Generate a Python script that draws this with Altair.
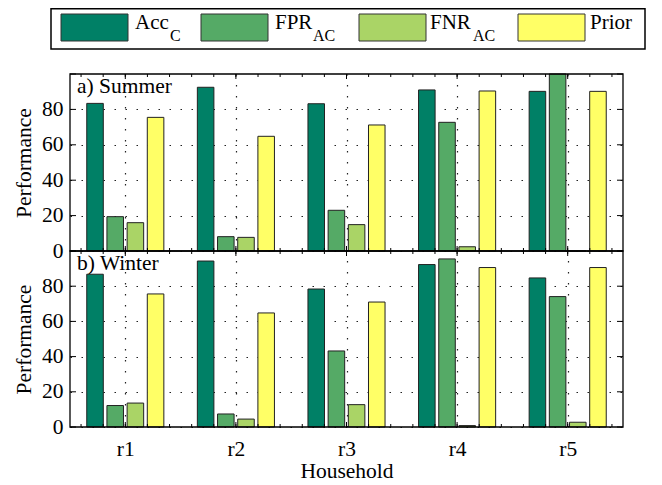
import altair as alt
import pandas as pd

# ---------------- data ----------------
households = ["r1", "r2", "r3", "r4", "r5"]
series = ["Acc_C", "FPR_AC", "FNR_AC", "Prior"]
colors = ["#008066", "#55AA66", "#AAD466", "#FFFF66"]

summer_acc = [83.4, 92.5, 83.2, 91.0, 90.2]
summer_fpr = [19.4, 8.1, 23.0, 72.7, 100.0]
summer_fnr = [16.0, 7.7, 14.9, 2.4, 0.0]
summer_prior = [75.5, 64.8, 71.2, 90.4, 90.2]

winter_acc = [86.8, 94.3, 78.4, 92.3, 84.7]
winter_fpr = [12.2, 7.4, 43.2, 95.5, 74.1]
winter_fnr = [13.6, 4.5, 12.7, 0.8, 2.7]
winter_prior = [75.6, 64.8, 71.0, 90.6, 90.6]

y_tick_values = [0, 20, 40, 60, 80, 100]
y_label_values = [0, 20, 40, 60, 80]
x_major_ticks = [1, 2, 3, 4, 5]
x_minor_ticks = [round(0.6 + 0.2 * k, 1) for k in range(25)]

legend_main = ["Acc", "FPR", "FNR", "Prior"]
legend_sub = ["C", "AC", "AC", ""]

# ---------------- layout / style ----------------
FONT = "Liberation Serif"
FS = 21.5
W = 553
H_TOP = 177
H_BOT = 176
DOT = [1.5, 9.5]
GRID_COLOR = "#222222"

legend_swatch_x = [-9, 131, 289, 448]
legend_text_x = [65, 205, 360, 520]
legend_sub_x = [100, 243, 403, 0]


def to_long(acc, fpr, fnr, prior):
    rows = []
    for i, h in enumerate(households):
        for s, vals in zip(series, [acc, fpr, fnr, prior]):
            rows.append({"household": h, "series": s, "value": vals[i]})
    return pd.DataFrame(rows)


def panel(df, label, H, show_x):
    yscale = alt.Scale(domain=[0, 100], nice=False)
    bars = alt.Chart(df).mark_bar(stroke="#222222", strokeWidth=1).encode(
        x=alt.X("household:N", sort=households,
                scale=alt.Scale(paddingInner=0.303, paddingOuter=0.1515), axis=None),
        xOffset=alt.XOffset("series:N", sort=series,
                            scale=alt.Scale(paddingInner=0.18, paddingOuter=0)),
        y=alt.Y("value:Q", scale=yscale,
                axis=alt.Axis(title="Performance", values=y_label_values, grid=True,
                              gridDash=DOT, gridColor=GRID_COLOR, gridWidth=1.2,
                              ticks=False, tickSize=0, domain=False,
                              labelPadding=7, labelFontSize=FS, labelColor="black",
                              labelFont=FONT, titleFont=FONT,
                              titleFontSize=FS, titleFontWeight="normal",
                              titleColor="black", titlePadding=6)),
        color=alt.Color("series:N", scale=alt.Scale(domain=series, range=colors),
                        legend=None),
    )

    xscale = alt.Scale(domain=[0.5, 5.5], nice=False, zero=False)
    axis_kwargs = dict(values=x_major_ticks, grid=True, gridDash=DOT,
                       gridColor=GRID_COLOR, gridWidth=1.2, ticks=False, tickSize=0,
                       domain=False, labelFlush=False)
    if show_x:
        axis_kwargs.update(labels=True, labelExpr="'r' + datum.value",
                           labelFontSize=FS, labelPadding=11, labelColor="black",
                           labelFont=FONT, titleFont=FONT,
                           title="Household", titleFontSize=FS,
                           titleFontWeight="normal", titleColor="black",
                           titlePadding=1)
    else:
        axis_kwargs.update(labels=False, title=None)
    xaxis = alt.Axis(**axis_kwargs)

    minor_df = pd.DataFrame({"pos": x_minor_ticks})
    major_df = pd.DataFrame({"pos": x_major_ticks})

    def xrule(d, y1, y2, ax):
        if ax is not None:
            xenc = alt.X("pos:Q", scale=xscale, axis=ax)
        else:
            xenc = alt.X("pos:Q", scale=xscale, axis=None)
        return alt.Chart(d).mark_rule(color="black", strokeWidth=1).encode(
            x=xenc, y=alt.value(y1), y2=alt.value(y2))

    xr = [
        xrule(minor_df, H, H - 3, xaxis),
        xrule(major_df, H, H - 5, None),
        xrule(minor_df, 0, 3, None),
        xrule(major_df, 0, 5, None),
    ]

    ydf = pd.DataFrame({"value": y_tick_values})

    def yrule(x1, x2):
        return alt.Chart(ydf).mark_rule(color="black", strokeWidth=1).encode(
            y=alt.Y("value:Q", scale=yscale), x=alt.value(x1), x2=alt.value(x2))

    yr = [yrule(0, 6), yrule(W - 6, W)]

    frame = alt.Chart(pd.DataFrame({"f": [0]})).mark_rect(
        fill="transparent", stroke="black", strokeWidth=1.3).encode(
        x=alt.value(0), x2=alt.value(W), y=alt.value(0), y2=alt.value(H))

    txt = alt.Chart(pd.DataFrame({"t": [label]})).mark_text(
        align="left", baseline="alphabetic", fontSize=FS, font=FONT,
        color="black").encode(text="t:N", x=alt.value(7), y=alt.value(19))

    return alt.layer(bars, *xr, *yr, frame, txt).resolve_scale(
        x="independent").properties(width=W, height=H)


top = panel(to_long(summer_acc, summer_fpr, summer_fnr, summer_prior),
            "a) Summer", H_TOP, False)
bottom = panel(to_long(winter_acc, winter_fpr, winter_fnr, winter_prior),
               "b) Winter", H_BOT, True)

# ---------------- legend ----------------
leg_df = pd.DataFrame({
    "series": series,
    "x0": legend_swatch_x,
    "x1": [v + 67 for v in legend_swatch_x],
    "main": legend_main,
    "tx": legend_text_x,
    "sub": legend_sub,
    "sx": legend_sub_x,
})

leg_box = alt.Chart(pd.DataFrame({"b": [0]})).mark_rect(
    fill="white", stroke="black", strokeWidth=1.5).encode(
    x=alt.value(-19), x2=alt.value(575), y=alt.value(0.75), y2=alt.value(41))

leg_sw = alt.Chart(leg_df).mark_rect(stroke="#333333", strokeWidth=1).encode(
    x=alt.X("x0:Q", scale=None), x2="x1:Q",
    y=alt.value(6), y2=alt.value(33),
    color=alt.Color("series:N", scale=alt.Scale(domain=series, range=colors),
                    legend=None))

leg_main = alt.Chart(leg_df).mark_text(
    align="left", baseline="alphabetic", fontSize=21, font=FONT,
    color="black").encode(x=alt.X("tx:Q", scale=None), y=alt.value(21), text="main:N")

leg_sub = alt.Chart(leg_df[leg_df["sub"] != ""]).mark_text(
    align="left", baseline="alphabetic", fontSize=16, font=FONT,
    color="black").encode(x=alt.X("sx:Q", scale=None), y=alt.value(33), text="sub:N")

legend = alt.layer(leg_box, leg_sw, leg_main, leg_sub).properties(width=W, height=41)

inner = alt.vconcat(top, bottom, spacing=0, bounds="flush")
chart = alt.vconcat(legend, inner, spacing=25, bounds="flush").properties(
    padding={"left": 5, "top": 0, "right": 5, "bottom": 0}
).configure(font=FONT).configure_axis(labelFont=FONT, titleFont=FONT
).configure_text(font=FONT).configure_view(strokeWidth=0)

chart.save("out.html", embed_options={"renderer": "svg", "actions": False})
